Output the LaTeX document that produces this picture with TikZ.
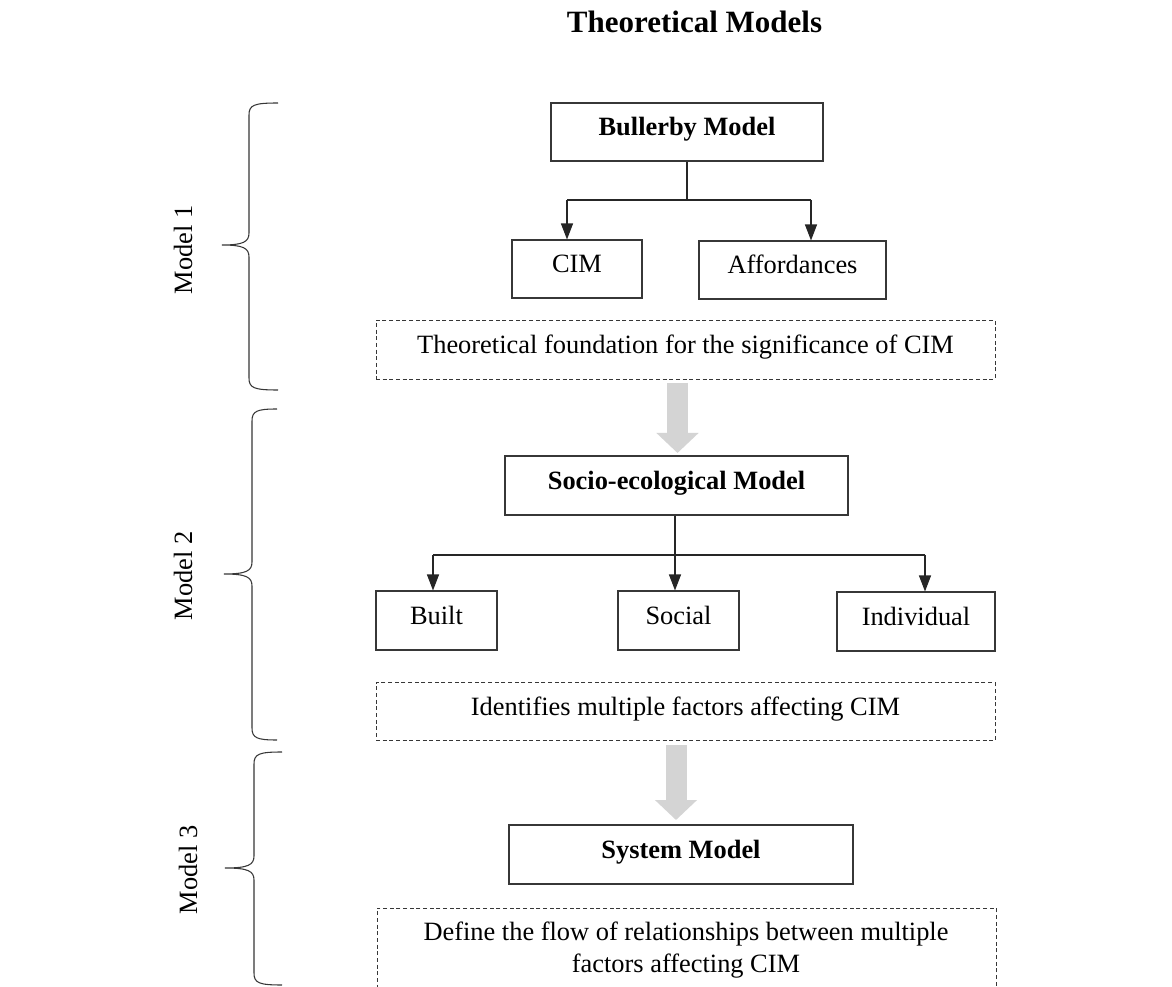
\documentclass[tikz,border=0pt]{standalone}
\usepackage{fontspec}
\setmainfont{Liberation Serif}
\usetikzlibrary{arrows.meta,calc}
\definecolor{linegray}{RGB}{55,55,55}
\definecolor{flowgray}{RGB}{212,212,212}

% curly bracket: #1 top y, #2 middle y, #3 bottom y, #4 spine x, #5 tip x, #6 end x
\newcommand{\modelbrace}[6]{%
  \draw[bracket] (#6,#1) .. controls ({#4+5},#1) and (#4,{#1+2}) .. (#4,{#1+12})
    -- (#4,{#2-12}) .. controls (#4,{#2-3}) and ({#4-6},#2) .. (#5,#2)
    .. controls ({#4-6},#2) and (#4,{#2+3}) .. (#4,{#2+12})
    -- (#4,{#3-12}) .. controls (#4,{#3-2}) and ({#4+5},#3) .. (#6,#3);}

\begin{document}
\begin{tikzpicture}[x=0.75pt,y=-0.75pt,
  every node/.style={font=\fontsize{19.8}{24}\selectfont},
  modelbox/.style={draw=linegray, line width=0.8pt, inner sep=0pt,
    text height=13.5pt, text depth=7.5pt},
  notebox/.style={draw=linegray, line width=0.7pt, dash pattern=on 3pt off 2pt,
    inner sep=0pt, text height=13.5pt, text depth=7.5pt},
  branch/.style={draw=black!85, line width=0.9pt},
  tiparrow/.style={branch, -{Triangle[length=12pt,width=9pt]}},
  flowarrow/.style={draw=flowgray, line width=15.75pt,
    -{Triangle[length=15pt,width=30.75pt]}},
  bracket/.style={draw=linegray, line width=0.8pt},
  sidelabel/.style={rotate=90, inner sep=0pt}
]
\clip (0,0) rectangle (1172,987);
\fill[white] (0,0) rectangle (1172,987);

% title
\node[anchor=base, font=\fontsize{23.25}{28}\selectfont\bfseries] (title) at (694.5,33) {Theoretical Models};

% model 1
\node[modelbox, minimum width=204pt, minimum height=43.5pt, font=\fontsize{19.8}{24}\selectfont\bfseries]
  (bullerby) at (687,132) {Bullerby Model};
\node[modelbox, minimum width=97.5pt, minimum height=43.5pt] (cim) at (577,269) {CIM};
\node[modelbox, minimum width=140.25pt, minimum height=43.5pt] (afford) at (792.5,270) {Affordances};
\node[notebox, minimum width=464.25pt, minimum height=44.25pt] (note1) at (685.5,349.5)
  {Theoretical foundation for the significance of CIM};

\coordinate (s1L) at (567,200);
\coordinate (s1R) at (811,200);
\draw[branch] (bullerby.south) -- (bullerby.south |- s1L);
\draw[branch] (s1L) -- (s1R);
\draw[tiparrow] (s1L) -- (s1L |- cim.north);
\draw[tiparrow] (s1R) -- (s1R |- afford.north);

% model 2
\node[modelbox, minimum width=257.25pt, minimum height=44.25pt, font=\fontsize{19.8}{24}\selectfont\bfseries]
  (socio) at (676.5,485.5) {Socio-ecological Model};
\node[modelbox, minimum width=90.75pt, minimum height=44.25pt] (built) at (436.5,620.5) {Built};
\node[modelbox, minimum width=90.75pt, minimum height=44.25pt] (social) at (678.5,620.5) {Social};
\node[modelbox, minimum width=118.5pt, minimum height=44.25pt] (indiv) at (916,621.5) {Individual};
\node[notebox, minimum width=464.25pt, minimum height=43.5pt] (note2) at (685.5,711.5)
  {Identifies multiple factors affecting CIM};

\coordinate (s2L) at (433,555);
\coordinate (s2M) at (675,555);
\coordinate (s2R) at (925,555);
\draw[branch] (socio.south -| s2M) -- (s2M);
\draw[branch] (s2L) -- (s2R);
\draw[tiparrow] (s2L) -- (s2L |- built.north);
\draw[tiparrow] (s2M) -- (s2M |- social.north);
\draw[tiparrow] (s2R) -- (s2R |- indiv.north);

% model 3
\node[modelbox, minimum width=258pt, minimum height=44.25pt, font=\fontsize{19.8}{24}\selectfont\bfseries]
  (system) at (681,854.5) {System Model};
\node[notebox, minimum width=464.25pt, minimum height=69pt] (note3) at (686.5,954) {};
\node[align=center, inner sep=0pt] (note3text) at (686,950)
  {Define the flow of relationships between multiple\\factors affecting CIM};

% flow between the models
\coordinate (f1top) at (677.5,383);
\coordinate (f1tip) at (677.5,453);
\coordinate (f2top) at (676,745);
\coordinate (f2tip) at (676,820);
\draw[flowarrow] (f1top) -- (f1tip);
\draw[flowarrow] (f2top) -- (f2tip);

% brackets and their labels
\modelbrace{103}{245}{390}{249}{222}{278}
\modelbrace{409}{574}{740}{252}{224}{277}
\modelbrace{752}{868}{985}{254}{225}{282}
\node[sidelabel] (m1) at (183,250) {Model 1};
\node[sidelabel] (m2) at (183,576) {Model 2};
\node[sidelabel] (m3) at (188,870) {Model 3};
\end{tikzpicture}
\end{document}
